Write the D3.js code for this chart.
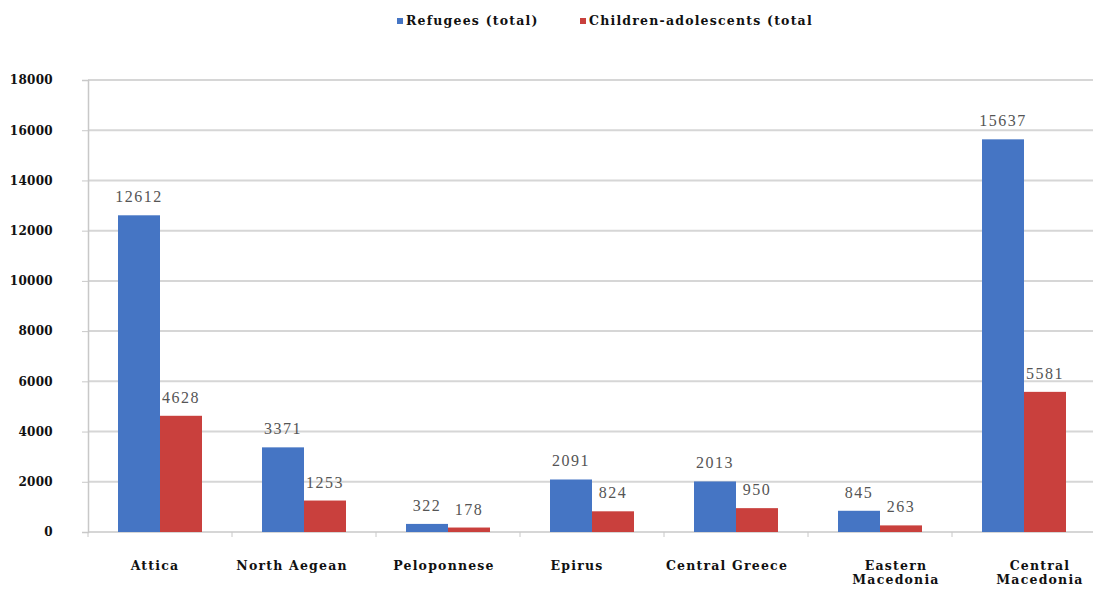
<!DOCTYPE html>
<html><head><meta charset="utf-8">
<script src="https://cdn.jsdelivr.net/npm/d3@7"></script>
<style>body{margin:0;background:#fff}svg{display:block}</style>
</head><body>
<svg id="c" width="1093" height="590"></svg>
<script>
const categories = [["Attica"],["North Aegean"],["Peloponnese"],["Epirus"],["Central Greece"],["Eastern","Macedonia"],["Central","Macedonia"]];
const seriesNames = ["Refugees (total)", "Children-adolescents (total"];
const refugees = [12612, 3371, 322, 2091, 2013, 845, 15637];
const children = [4628, 1253, 178, 824, 950, 263, 5581];
const yTicks = [0, 2000, 4000, 6000, 8000, 10000, 12000, 14000, 16000, 18000];
const colors = ["#4575c4", "#c9403d"];

const svg = d3.select("#c");
const m = {l: 88, r: 1096, t: 80, b: 532};
const keys = categories.map((c,i)=>i);
const x = d3.scaleBand().domain(keys).range([m.l, m.r]).paddingInner(0).paddingOuter(0);
const y = d3.scaleLinear().domain([0, 18000]).range([m.b, m.t]);

// gridlines
svg.append("g").selectAll("line").data(yTicks.slice(1)).join("line")
  .attr("x1", m.l).attr("x2", 1093).attr("y1", d=>y(d)).attr("y2", d=>y(d))
  .attr("stroke", "#d6d6d6").attr("stroke-width", 2);

// y axis
const ya = svg.append("g").attr("transform", `translate(${m.l},0)`)
  .call(d3.axisLeft(y).tickValues(yTicks).tickSize(6).tickPadding(29).tickFormat(d3.format("d")));
ya.select(".domain").attr("stroke", "#c8c8c8").attr("stroke-width", 1.5);
ya.selectAll(".tick line").attr("stroke", "#c8c8c8");
ya.selectAll("text").attr("font-family", "DejaVu Serif").attr("font-weight", "bold")
  .attr("font-size", 12).attr("letter-spacing", 0.3).attr("fill", "#111");

// x axis
svg.append("line").attr("x1", m.l).attr("x2", 1093).attr("y1", m.b).attr("y2", m.b)
  .attr("stroke", "#c8c8c8").attr("stroke-width", 1.5);
svg.append("g").selectAll("line").data(keys).join("line")
  .attr("x1", d=>x(d)).attr("x2", d=>x(d)).attr("y1", m.b).attr("y2", m.b+5)
  .attr("stroke", "#c8c8c8");

const data = keys.map(i=>[refugees[i], children[i]]);
const bw = 42;
const g = svg.append("g");
data.forEach((vals, i) => {
  const cx = x(i) + x.bandwidth()/2;
  vals.forEach((v, s) => {
    const bx = cx + (s === 0 ? -bw : 0);
    g.append("rect").attr("x", bx).attr("y", y(v)).attr("width", bw).attr("height", y(0)-y(v))
      .attr("fill", colors[s]);
    g.append("text").attr("x", bx + bw/2).attr("y", y(v) - 13).attr("text-anchor", "middle")
      .attr("font-family", "Liberation Serif").attr("font-size", 16).attr("letter-spacing", 1.5)
      .attr("fill", "#555").text(v);
  });
});

// category labels (small per-label nudges as in the original layout)
const nudge = [-5, -12, -4, -15, -9, 16, 16];
const xl = svg.append("g");
categories.forEach((lines, i) => {
  const cx = x(i) + x.bandwidth()/2 + nudge[i];
  const t = xl.append("text").attr("x", cx).attr("y", 570).attr("text-anchor", "middle")
    .attr("font-family", "DejaVu Serif").attr("font-weight", "bold").attr("font-size", 12.5)
    .attr("letter-spacing", 1.2).attr("fill", "#111");
  lines.forEach((ln, k) => t.append("tspan").attr("x", cx).attr("dy", k ? 14 : 0).text(ln));
});

// legend
const leg = [{x: 397, s: 0}, {x: 580, s: 1}];
leg.forEach(l => {
  svg.append("rect").attr("x", l.x).attr("y", 18).attr("width", 6).attr("height", 6).attr("fill", colors[l.s]);
  svg.append("text").attr("x", l.x + 9).attr("y", 25).attr("font-family", "DejaVu Serif")
    .attr("font-weight", "bold").attr("font-size", 12.5).attr("letter-spacing", 1.2)
    .attr("fill", "#111").text(seriesNames[l.s]);
});
</script>
</body></html>
